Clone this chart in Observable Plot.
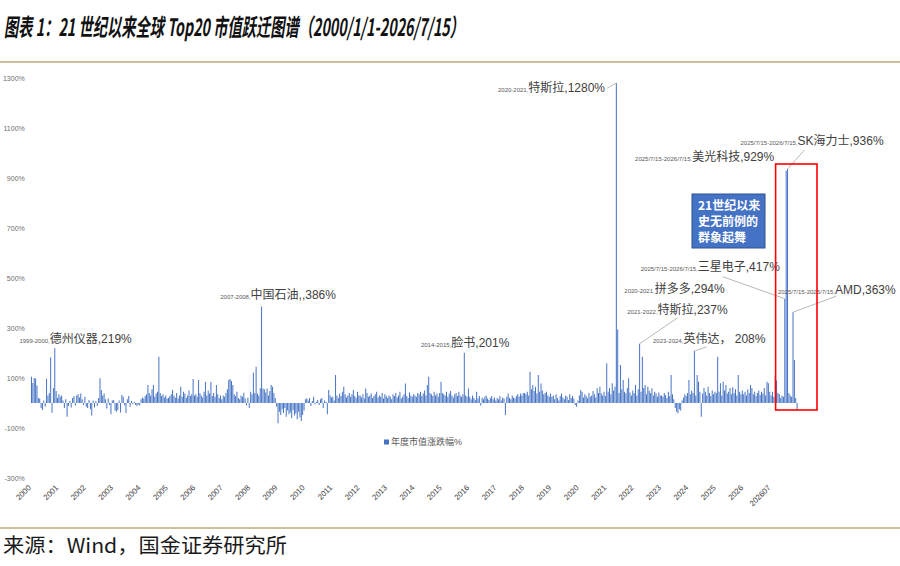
<!DOCTYPE html>
<html>
<head>
<meta charset="utf-8">
<script src="https://cdn.jsdelivr.net/npm/d3@7"></script>
<script src="https://cdn.jsdelivr.net/npm/@observablehq/plot@0.6"></script>
<style>
  html, body { margin: 0; padding: 0; background: #ffffff; }
  body { width: 900px; height: 566px; position: relative; overflow: hidden; }
  #title { position: absolute; left: 4px; top: 14px; white-space: nowrap; }
  #titleText { display: inline-block; font-family: 'Noto Sans CJK SC', sans-serif; font-weight: bold; font-style: italic;
    font-size: 24px; line-height: 24px; color: #111111; transform-origin: left center; }
  .rule { position: absolute; left: 0; width: 900px; height: 2px; background: #cfbd9b; }
  #chart { position: absolute; left: 0; top: 64px; }
  #source { position: absolute; left: 3px; top: 535px; white-space: nowrap; }
  #sourceText { display: inline-block; font-family: 'Noto Sans CJK SC', sans-serif; font-size: 20px; line-height: 20px;
    color: #1a1a1a; transform-origin: left center; }
</style>
</head>
<body>
<div id="title"><span id="titleText">图表 1：21 世纪以来全球 Top20 市值跃迁图谱（2000/1/1-2026/7/15）</span></div>
<div class="rule" style="top:61px"></div>
<div id="chart"></div>
<div class="rule" style="top:527px"></div>
<div id="source"><span id="sourceText">来源：Wind，国金证券研究所</span></div>
<script>
// ---------- data: yearly market-cap change (%) of the global Top20, one array per period ----------
const yearLabels = ["2000","2001","2002","2003","2004","2005","2006","2007","2008","2009","2010","2011","2012","2013",
  "2014","2015","2016","2017","2018","2019","2020","2021","2022","2023","2024","2025","2026","202607"];
const yTickValues = [-300, -100, 100, 300, 500, 700, 900, 1100, 1300];

const c2000 = [105, 80, 100, 98, 70, 20, 18, -20, -28, 10, -15, 97, 30, 40, 183, -39, 60, 219, 48, 20];
const c2001 = [35, 25, 30, 10, -20, 15, -55, -12, 8, -18, 20, 28, -10, 30, 35, 22, 38, 15, -8, 25];
const c2002 = [-15, -20, 12, -25, -50, 10, -18, 8, -12, 20, 99, 52, 30, 38, 15, -22, 18, -8, -45, 10];
const c2003 = [12, -30, -35, -28, 10, -38, 32, 25, -10, -40, 15, 28, -15, 8, -5, 5, -8, -12, -6, -10];
const c2004 = [15, 22, 18, 28, 35, 72, 40, 30, 55, 72, 25, 38, 45, 185, 40, 28, 35, 22, 30, 18];
const c2005 = [20, 28, 35, 52, 30, 22, 40, 18, 30, 65, 25, 45, 38, 20, 30, 50, 28, 35, 96, 30];
const c2006 = [35, 25, 92, 40, 30, 22, 45, 85, 30, 50, 38, 85, 28, 40, 25, 72, 35, 20, 30, 15];
const c2007 = [30, 25, 40, 55, 92, 96, 88, 72, 35, 28, 45, 20, 15, 30, 25, 41, 18, -10, 22, -20];
const c2008 = [45, 35, 121, 40, 145, 38, 30, 60, 386, 58, 55, 42, 58, 30, 48, 72, 65, 40, 20, -15];
const c2009 = [-81, -35, -48, -25, -40, -20, -55, -30, -45, -38, -60, -28, -50, -42, -65, -35, -58, -72, -48, -30];
const c2010 = [15, 18, 10, 20, -12, 8, 25, -5, 5, 12, -8, 15, 20, -20, 10, 5, -45, 52, 30, 22];
const c2011 = [25, 10, 112, 30, 20, 38, 28, 45, 65, 35, 22, 30, 40, 25, 35, 52, 28, 20, 45, 30];
const c2012 = [30, 22, 35, 18, 58, 40, 25, 30, 38, 20, 28, 35, 45, 22, 30, 25, 40, 18, 35, 28];
const c2013 = [20, 30, 25, 15, 35, 28, 40, 22, 30, 45, 18, 25, 35, 78, 28, 20, 42, 30, 25, 35];
const c2014 = [30, 25, 40, 35, 45, 28, 38, 50, 30, 72, 105, 40, 35, 28, 45, 30, 38, 25, 40, 85];
const c2015 = [40, 35, 30, 45, 25, 38, 48, 30, 22, 35, 40, 28, 45, 30, 25, 35, 201, 30, 25, 58];
const c2016 = [25, 15, 30, 20, 12, 45, 18, 28, -10, 22, 15, 25, 30, 18, 12, 20, 28, 15, 22, 10];
const c2017 = [20, 15, 28, 10, 22, 18, -48, 25, 38, 20, 15, 30, 22, 18, 28, 35, 25, 38, 30, 40];
const c2018 = [40, 35, 45, 30, 125, 55, 72, 48, 65, 38, 112, 45, 78, 50, 35, 40, 45, 30, 25, 38];
const c2019 = [25, 30, 15, 35, 20, 10, 28, 38, 22, 15, 30, 25, 12, 35, 20, 28, 18, -8, -15, 10];
const c2020 = [30, 52, 45, 22, 35, 28, 19, 40, 25, 30, 48, 35, 22, 59, 40, 65, 39, 30, 45, 28];
const c2021 = [159, 45, 60, 35, 79, 50, 65, 1280, 294, 40, 152, 55, 92, 45, 38, 60, 99, 42, 30, 50];
const c2022 = [40, 72, 30, 55, 237, 45, 185, 60, 72, 35, 65, 50, 40, 59, 30, 45, 38, 25, 42, 30];
const c2023 = [30, 25, 40, 32, 20, 45, 28, 112, 35, 15, -20, -35, -41, -25, -30, 10, 22, 35, 28, 40];
const c2024 = [92, 35, 50, 40, 208, 30, 112, 85, 45, -55, 38, 60, 45, 30, 65, 40, 28, 50, 35, 45];
const c2025 = [40, 185, 45, 79, 30, 85, 50, 72, 38, 45, 60, 35, 63, 40, 55, 30, 112, 45, 35, 50];
const c2026 = [35, 45, 30, 55, 40, 72, 60, 35, 45, 28, 40, 50, 32, 45, 38, 60, 30, 85, 79, 45];
const c202607 = [30, 45, 25, 108, 90, 40, 35, 20, 30, 25, 417, 929, 936, 40, 30, 25, 363, 172, 20, -28];

const series = [c2000, c2001, c2002, c2003, c2004, c2005, c2006, c2007, c2008, c2009, c2010, c2011, c2012, c2013,
  c2014, c2015, c2016, c2017, c2018, c2019, c2020, c2021, c2022, c2023, c2024, c2025, c2026, c202607];

// annotated companies: period, name + value text, group (period index) and slot within the group
const notePeriods = ["1999-2000,", "2007-2008,", "2014-2015,", "2020-2021,", "2020-2021,", "2021-2022,", "2023-2024,",
  "2025/7/15-2026/7/15,", "2025/7/15-2026/7/15,", "2025/7/15-2026/7/15,", "2025/7/15-2025/7/15,"];
const noteNames = ["德州仪器,219%", "中国石油,,386%", "脸书,201%", "特斯拉,1280%", "拼多多,294%", "特斯拉,237%",
  "英伟达， 208%", "三星电子,417%", "美光科技,929%", "SK海力士,936%", "AMD,363%"];
const noteGroups = [0, 8, 15, 21, 21, 22, 24, 27, 27, 27, 27];
const noteSlots = [17, 8, 16, 7, 8, 4, 4, 10, 11, 12, 16];

const legendLabel = "年度市值涨跌幅%";
const calloutLines = ["21世纪以来", "史无前例的", "群象起舞"];

// ---------- layout (pixels, not data) ----------
// label anchor offset from bar top (dx, dy); optional leader start offset (lx, ly)
const noteLayout = [
  {dx: -5, dy: -5}, {dx: -11, dy: -8}, {dx: -13, dy: -6},
  {dx: -88, dy: 9, lx: -9, ly: 5}, {dx: 37, dy: -37},
  {dx: 18, dy: -30, lx: 38, ly: -26}, {dx: -11, dy: -8, lx: 12, ly: -4},
  {dx: -87, dy: -28, lx: -62, ly: -22}, {dx: -94, dy: -10},
  {dx: 10, dy: -24, lx: 17, ly: -19}, {dx: 42, dy: -18, lx: 43, ly: -16}
];

const perGroup = 20;
const bars = series.flatMap((vals, g) => vals.map((v, k) => ({i: g * perGroup + k, v})));
const total = series.length * perGroup;
const xTicks = yearLabels.map((_, g) => g * perGroup - 1.3);

const FONT = "'Liberation Sans','Noto Sans CJK SC',sans-serif";
const BLUE = "#4472C4";

const chart = Plot.plot({
  width: 900,
  height: 464,
  marginLeft: 28.26,
  marginRight: 102,
  marginTop: 14,
  marginBottom: 50,
  style: {fontFamily: FONT, background: "transparent", overflow: "visible"},
  x: {domain: [-2, total]},
  y: {domain: [-300, 1300]},
  marks: [
    Plot.rect(bars, {x1: "i", x2: d => d.i + 0.72, y1: 0, y2: "v", fill: BLUE}),
    Plot.axisY({ticks: yTickValues, tickFormat: d => d + "%", tickSize: 0, tickPadding: 4,
      fontSize: 7, color: "#6e6e6e", label: null}),
    Plot.axisX({ticks: xTicks, tickFormat: d => yearLabels[Math.round((d + 1.3) / perGroup)],
      tickRotate: -45, tickSize: 0, tickPadding: 8, fontSize: 7.8, color: "#404040", label: null})
  ]
});
document.getElementById("chart").appendChild(chart);

// ---------- annotations placed through the plot's scales ----------
const sx = chart.scale("x"), sy = chart.scale("y");
const svg = d3.select(chart);
const ann = svg.append("g").attr("font-family", FONT).attr("text-anchor", "start");

noteNames.forEach((name, n) => {
  const idx = noteGroups[n] * perGroup + noteSlots[n];
  const v = series[noteGroups[n]][noteSlots[n]];
  const bx = sx.apply(idx + 0.36), by = sy.apply(v);
  const L = noteLayout[n];
  const ax = bx + L.dx, ay = by + L.dy;
  if (L.lx !== undefined) {
    ann.append("line").attr("x1", bx + L.lx).attr("y1", by + L.ly).attr("x2", bx).attr("y2", by)
      .attr("stroke", "#a6a6a6").attr("stroke-width", 0.8);
  }
  ann.append("text").attr("x", ax).attr("y", ay).attr("text-anchor", "end")
    .attr("font-size", 6).attr("fill", "#595959").text(notePeriods[n]);
  ann.append("text").attr("x", ax).attr("y", ay).attr("text-anchor", "start")
    .attr("font-size", 12).attr("fill", "#404040").text(name);
});

// red highlight around the last period
const last = series[series.length - 1];
const lastStart = (series.length - 1) * perGroup;
const rx1 = sx.apply(lastStart) + 5, rx2 = sx.apply(total) + 19;
const ry1 = sy.apply(d3.max(last)) - 5, ry2 = sy.apply(0) + 7;
ann.append("rect").attr("x", rx1).attr("y", ry1).attr("width", rx2 - rx1).attr("height", ry2 - ry1)
  .attr("fill", "none").attr("stroke", "#ff0000").attr("stroke-width", 1.6);

// callout box
const box = ann.append("g").attr("transform", "translate(692,130)");
box.append("rect").attr("width", 73).attr("height", 54).attr("fill", BLUE).attr("stroke", "#2f528f").attr("stroke-width", 1);
calloutLines.forEach((t, k) => {
  box.append("text").attr("x", 6).attr("y", 16 + k * 16).attr("font-size", 12).attr("font-weight", "bold")
    .attr("text-anchor", "start").attr("fill", "#ffffff")
    .attr("font-family", "'Noto Sans CJK SC',sans-serif").text(t);
});

// legend
const lg = ann.append("g").attr("transform", "translate(384,378)");
lg.append("rect").attr("x", 0).attr("y", -2.5).attr("width", 5).attr("height", 5).attr("fill", BLUE);
lg.append("text").attr("x", 7).attr("y", 3).attr("font-size", 9).attr("text-anchor", "start")
  .attr("fill", "#595959").text(legendLabel);

// fit title and source widths
function fit(id, w) {
  const el = document.getElementById(id);
  const cur = el.getBoundingClientRect().width;
  el.style.transform = `scaleX(${w / cur})`;
}
fit("titleText", 460);
fit("sourceText", 284);
</script>
</body>
</html>
